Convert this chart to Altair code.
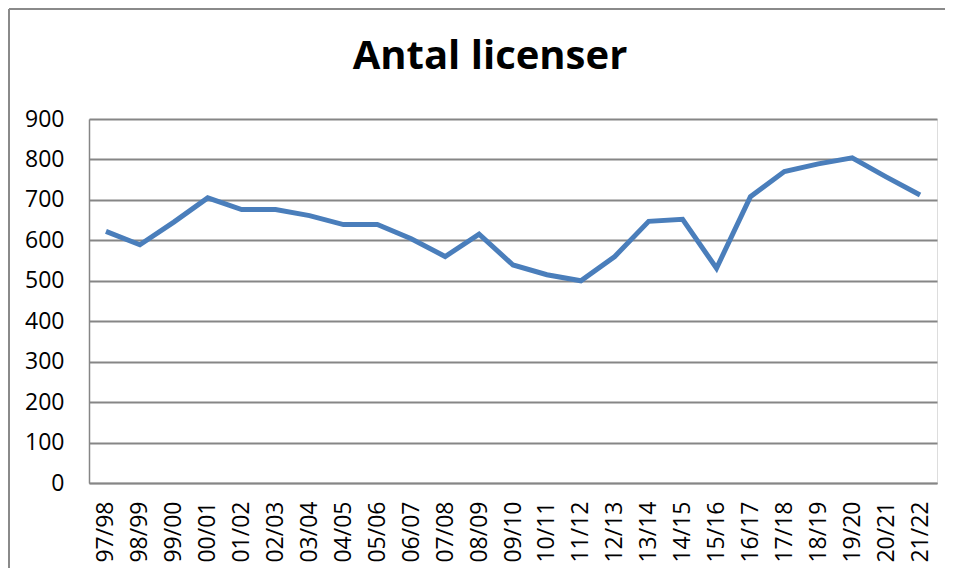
import altair as alt
import pandas as pd

seasons = ["97/98", "98/99", "99/00", "00/01", "01/02", "02/03", "03/04", "04/05",
           "05/06", "06/07", "07/08", "08/09", "09/10", "10/11", "11/12", "12/13",
           "13/14", "14/15", "15/16", "16/17", "17/18", "18/19", "19/20", "20/21", "21/22"]
licenser = [622, 589, 645, 705, 676, 676, 661, 639, 639, 604, 560, 615, 539, 515,
            500, 560, 647, 652, 531, 708, 770, 789, 804, 757, 712]
y_ticks = [0, 100, 200, 300, 400, 500, 600, 700, 800, 900]

df = pd.DataFrame({"season": seasons, "antal": licenser})

FONT = "Open Sans"

line = alt.Chart(df).mark_line(color="#4a7ebb", strokeWidth=5, strokeJoin="miter").encode(
    x=alt.X("season:N", sort=seasons, title=None,
            scale=alt.Scale(type="point", padding=0.5),
            axis=alt.Axis(labelAngle=270, labelFont=FONT, labelFontSize=23,
                          labelColor="#000000", tickSize=0, labelPadding=18,
                          domainColor="#868686", domainWidth=1.5, grid=False,
                          labelOverlap=False)),
    y=alt.Y("antal:Q", title=None,
            scale=alt.Scale(domain=[0, 900], nice=False, zero=True),
            axis=alt.Axis(values=y_ticks, labelFont=FONT, labelFontSize=23,
                          labelColor="#000000", tickSize=0, labelPadding=25,
                          domainColor="#868686", domainWidth=1.5,
                          gridColor="#868686", gridWidth=1.8, gridOpacity=1)),
)

# outer chart-area frame (decorative): top and left edges only
one = pd.DataFrame({"k": [0]})
frame_top = alt.Chart(one).mark_rule(stroke="#8a8a8a", strokeWidth=2).encode(
    x=alt.value(-80), x2=alt.value(900), y=alt.value(-110)
)
frame_left = alt.Chart(one).mark_rule(stroke="#8a8a8a", strokeWidth=2).encode(
    x=alt.value(-80), y=alt.value(-110), y2=alt.value(500)
)

chart = alt.layer(frame_top, frame_left, line).properties(
    width=848,
    height=364,
    title=alt.TitleParams("Antal licenser", font=FONT, fontSize=40, fontWeight="bold",
                          color="#000000", anchor="middle", frame="group",
                          dx=-23, offset=-69),
    autosize=alt.AutoSizeParams(type="none"),
    padding={"left": 81, "top": 111, "right": 8, "bottom": 85},
).configure_view(stroke=None).configure(background="#ffffff")

chart.save("out.html", embed_options={"renderer": "svg", "actions": False})
